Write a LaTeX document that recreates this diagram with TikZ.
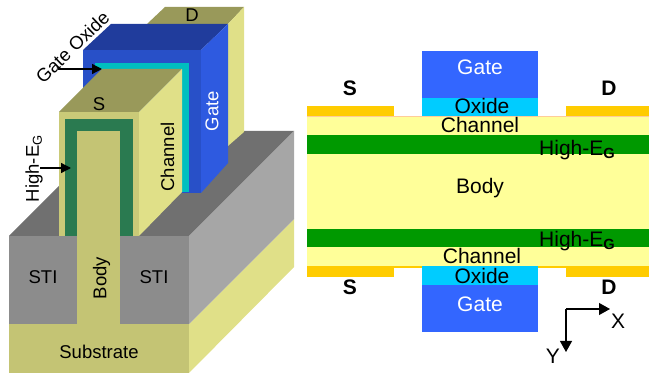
\documentclass[tikz,border=0pt]{standalone}
\usepackage{fontspec}
\setmainfont{Liberation Sans}
\usetikzlibrary{arrows.meta}
\definecolor{SubFront}{HTML}{C4C474}
\definecolor{SubSide}{HTML}{E0E088}
\definecolor{FinTop}{HTML}{99995A}
\definecolor{StiFront}{HTML}{8C8C8C}
\definecolor{StiSide}{HTML}{A6A6A6}
\definecolor{StiTop}{HTML}{707070}
\definecolor{GateFront}{HTML}{2850C8}
\definecolor{GateSide}{HTML}{2E5AE0}
\definecolor{GateTop}{HTML}{203C9C}
\definecolor{OxideTeal}{HTML}{00BFBF}
\definecolor{HighDark}{HTML}{2A7A50}
\definecolor{PlanBody}{HTML}{FFFF99}
\definecolor{PlanHigh}{HTML}{009900}
\definecolor{PlanContact}{HTML}{FFCC00}
\definecolor{PlanOxide}{HTML}{00CCFF}
\definecolor{PlanGate}{HTML}{3366FF}
\definecolor{PlanEdge}{HTML}{FFCC99}
\newcommand{\sizeA}{\fontsize{18.5}{20}\selectfont}
\newcommand{\sizeB}{\fontsize{21}{23}\selectfont}
\tikzset{
  lab3d/.style={font=\sizeA, inner sep=0pt},
  labplan/.style={font=\sizeB, inner sep=0pt},
  labterm/.style={font=\sizeB\bfseries, inner sep=0pt},
  tagarrow/.style={line width=1.3pt, -{Triangle[length=10pt,width=10pt]}},
  axisarrow/.style={line width=1.1pt, -{Triangle[length=11pt,width=12pt]}},
}
\begin{document}
\begin{tikzpicture}[x=1pt, y=-1pt]
\useasboundingbox (0,0) rectangle (649,377);
% substrate and isolation
\fill[SubFront] (9,324) rectangle (189,373);
\fill[SubSide] (189,324) -- (294,219) -- (294,267) -- (189,373) -- cycle;
\fill[StiTop] (9,236) -- (114,131) -- (294,131) -- (189,236) -- cycle;
\fill[StiSide] (189,236) -- (294,131) -- (294,219) -- (189,324) -- cycle;
\fill[StiFront] (9,236) rectangle (189,324);
% drain end of the fin
\fill[FinTop] (147,24) -- (165,7) -- (244,7) -- (228,24) -- cycle;
\fill[SubSide] (228,24) -- (244,7) -- (244,132) -- (228,146) -- cycle;
% gate stack
\fill[GateTop] (83,50) -- (111,24) -- (228,24) -- (201,50) -- cycle;
\fill[GateSide] (201,50) -- (228,24) -- (228,163) -- (201,193) -- cycle;
\fill[GateFront] (83,50) rectangle (201,193);
\fill[OxideTeal] (95,63) rectangle (189,70);
\fill[OxideTeal] (182,63) rectangle (189,192);
% source end of the fin
\fill[FinTop] (59,112) -- (102,69) -- (182,69) -- (139,112) -- cycle;
\fill[SubSide] (139,112) -- (182,69) -- (182,192) -- (139,236) -- cycle;
\fill[SubFront!80!SubSide] (59,112) rectangle (139,236);
\fill[HighDark] (64.5,119) rectangle (133,236);
\fill[SubFront] (77,131) rectangle (120,324);
\node[lab3d] (dlab) at (192,15) {D};
\node[lab3d] (slab) at (99,104) {S};
\node[lab3d, rotate=90, text=white] (gatelab) at (212,111) {Gate};
\node[lab3d, rotate=90] (chanlab) at (167.5,157) {Channel};
\node[lab3d, rotate=90] (bodylab) at (101.5,278) {Body};
\node[lab3d] (stileft) at (43,277.5) {STI};
\node[lab3d] (stiright) at (154,277.5) {STI};
\node[lab3d] (sublab) at (99,352) {Substrate};
\node[lab3d, rotate=44] (oxidelab) at (72.5,47) {Gate Oxide};
\node[lab3d, rotate=90] (highlab) at (34,168.5) {High-E\textsubscript{G}};
\coordinate (oxfrom) at (58,69);
\coordinate (oxto) at (102,69);
\coordinate (highfrom) at (40,168);
\coordinate (highto) at (71,168);
\draw[tagarrow] (oxfrom) -- (oxto);
\draw[tagarrow] (highfrom) -- (highto);
% cross section
\fill[PlanBody] (307,116) rectangle (649,266);
\draw[PlanEdge, line width=0.8pt] (307,116) -- (649,116);
\draw[PlanEdge, line width=0.8pt] (307,135) -- (649,135);
\fill[PlanHigh] (307,135.5) rectangle (649,154);
\fill[PlanHigh] (307,229) rectangle (649,247);
\fill[PlanContact] (307,106) rectangle (394,116);
\fill[PlanContact] (566,106) rectangle (649,116);
\fill[PlanContact] (307,266) rectangle (394,277);
\fill[PlanContact] (566,266) rectangle (649,277);
\fill[PlanContact] (394,266) rectangle (566,268);
\fill[PlanOxide] (421.5,98) rectangle (538,116);
\fill[PlanGate] (421.5,51) rectangle (538,98);
\fill[PlanOxide] (421.5,266) rectangle (538,285);
\fill[PlanGate] (421.5,285) rectangle (538,332);
\node[labterm] (stop) at (350,88) {S};
\node[labterm] (dtop) at (609,88) {D};
\node[labterm] (sbot) at (350,287) {S};
\node[labterm] (dbot) at (609,287) {D};
\node[labplan, text=white] (gatetop) at (480,67) {Gate};
\node[labplan] (oxtop) at (482,106) {Oxide};
\node[labplan] (chantop) at (480,125) {Channel};
\node[labplan, anchor=west] (hightop) at (539,150) {High-E\textsubscript{\textbf{G}}};
\node[labplan] (bodyplan) at (480,188) {Body};
\node[labplan, anchor=west] (highbot) at (539,241) {High-E\textsubscript{\textbf{G}}};
\node[labplan] (chanbot) at (482,256) {Channel};
\node[labplan] (oxbot) at (482,276) {Oxide};
\node[labplan, text=white] (gatebot) at (480,304) {Gate};
% axes
\coordinate (axorg) at (566,309);
\coordinate (axx) at (610,309);
\coordinate (axy) at (566,352);
\draw[axisarrow] (axorg) -- (axx);
\draw[axisarrow] (axorg) -- (axy);
\node[labplan] (xlab) at (618,321) {X};
\node[labplan] (ylab) at (553,356) {Y};
\end{tikzpicture}
\end{document}
